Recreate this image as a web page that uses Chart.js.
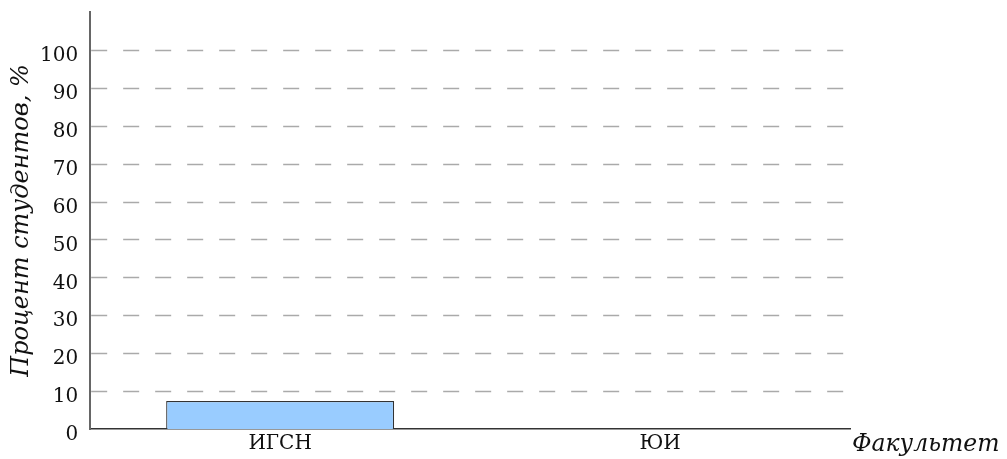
<!DOCTYPE html>
<html>
<head>
<meta charset="utf-8">
<script src="https://cdn.jsdelivr.net/npm/chart.js@4.4.1/dist/chart.umd.min.js"></script>
<style>
  html, body { margin: 0; padding: 0; background: #fff; }
  #wrap { width: 1007px; height: 459px; }
</style>
</head>
<body>
<div id="wrap"><canvas id="chart"></canvas></div>
<script>
// данные графика
const faculties = ["ИГСН", "ЮИ"];
const percents = [7.4, 0];
const yTicks = [0, 10, 20, 30, 40, 50, 60, 70, 80, 90, 100];

const serif = "'DejaVu Serif', serif";

// пунктирная сетка от самой оси (штрих 16, пробел 16)
const dashedGrid = {
    id: "dashedGrid",
    afterDraw(chart) {
        const ctx = chart.ctx;
        const area = chart.chartArea;
        const y = chart.scales.y;
        ctx.save();
        ctx.strokeStyle = "#aaaaaa";
        ctx.lineWidth = 1.3;
        ctx.setLineDash([]);
        yTicks.filter(v => v > 0).forEach(v => {
            const py = Math.round(y.getPixelForValue(v)) + 0.5;
            ctx.beginPath();
            for (let x = area.left + 1; x + 16 <= area.right; x += 32) {
                ctx.moveTo(x, py);
                ctx.lineTo(x + 16, py);
            }
            ctx.stroke();
        });
        ctx.restore();
    }
};

// подпись оси X справа от оси
const xTitlePlugin = {
    id: "xTitleRight",
    afterDraw(chart) {
        const ctx = chart.ctx;
        const area = chart.chartArea;
        ctx.save();
        ctx.font = "italic 23.5px " + serif;
        ctx.fillStyle = "#111";
        ctx.textAlign = "left";
        ctx.textBaseline = "middle";
        ctx.fillText("Факультет", area.right + 2, area.bottom + 16);
        ctx.restore();
    }
};

new Chart(document.getElementById("chart"), {
    type: "bar",
    data: {
        labels: faculties,
        datasets: [{
            data: percents,
            backgroundColor: "#99ccff",
            borderColor: "#333333",
            borderWidth: 1.2,
            borderSkipped: "bottom",
            categoryPercentage: 1,
            barPercentage: 0.6
        }]
    },
    options: {
        responsive: true,
        maintainAspectRatio: false,
        animation: false,
        layout: { padding: { top: 12, right: 157, left: 16, bottom: 0 } },
        plugins: {
            legend: { display: false },
            tooltip: { enabled: false }
        },
        scales: {
            x: {
                grid: { display: false, drawTicks: false },
                border: { color: "#333", width: 1.5 },
                ticks: { color: "#111", font: { family: serif, size: 20 }, padding: 3 }
            },
            y: {
                min: 0,
                max: 110,
                afterBuildTicks(scale) {
                    scale.ticks = yTicks.concat([110]).map(v => ({ value: v }));
                },
                afterFit(scale) {
                    scale.paddingTop = 0;
                },
                grid: { display: false, drawTicks: false },
                border: { color: "#666", width: 2 },
                ticks: {
                    color: "#111",
                    font: { family: serif, size: 20 },
                    padding: 12,
                    labelOffset: 6,
                    callback: v => (v <= 100 ? v : "")
                },
                title: {
                    display: true,
                    text: "Процент студентов, %",
                    color: "#111",
                    font: { family: serif, size: 24, style: "italic", lineHeight: 0.5 },
                    padding: { top: 0, bottom: 0 }
                }
            }
        }
    },
    plugins: [dashedGrid, xTitlePlugin]
});
</script>
</body>
</html>
